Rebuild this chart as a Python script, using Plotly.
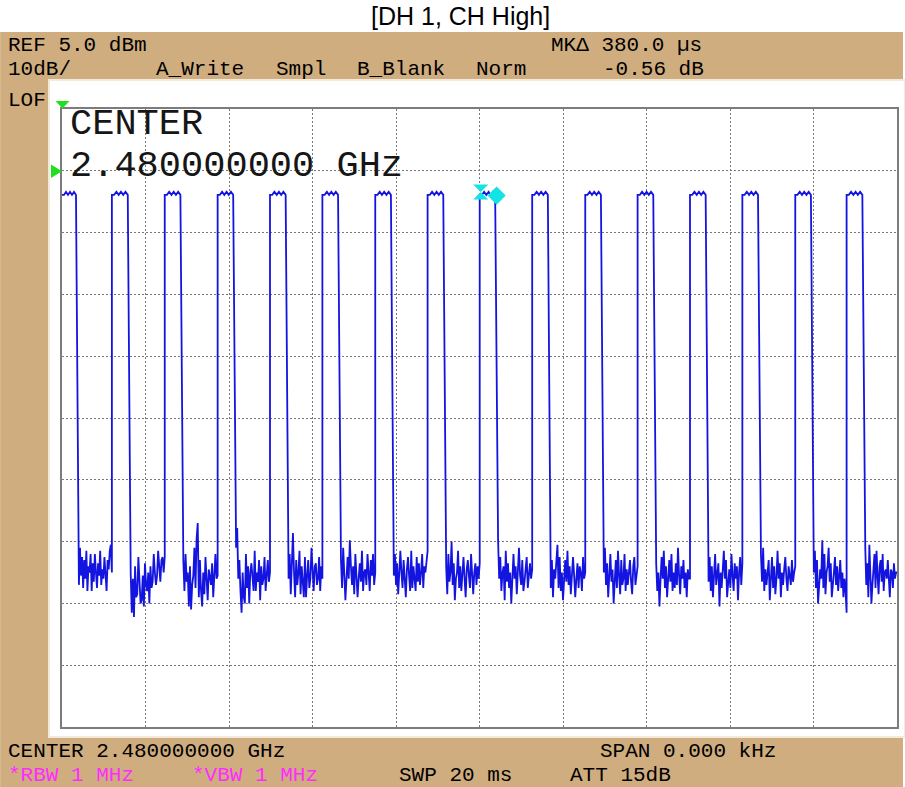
import numpy as np
import plotly.graph_objects as go

# ---- Analyzer settings -------------------------------------------------------
SWEEP_MS = 20.0          # zero-span sweep time
REF_LEVEL_DBM = 5.0      # top of screen
DB_PER_DIV = 10.0
N_DIV = 10

# ---- Burst timing (ms) -----------------------------------------------------
RISE_MS = [1.195, 2.461, 3.728, 4.982, 6.237, 7.503, 8.757, 10.005,
           11.262, 12.533, 13.787, 15.042, 16.296, 17.563, 18.793]
FALL_MS = [0.335, 1.575, 2.836, 4.100, 5.357, 6.612, 7.878, 9.132, 10.375,
           11.637, 12.908, 14.162, 15.417, 16.671, 17.938, 19.170]
FALL_SETTLE_MS = 0.07    # one sweep point between burst end and noise floor

# Burst top level with its small ripple (dBm)
PULSE_TOP = [-8.9, -8.9, -8.4, -8.9, -8.4, -8.9, -8.4, -8.9]

# Noise floor between bursts (dBm), one list per gap
NOISE_GAPS = [
    [-72, -66, -70.5, -67.5, -72.5, -68, -71, -66.5, -73, -69, -70, -67, -73, -68.5, -71.5, -67,
     -70, -72.5, -68.5, -70.5, -66.5, -72, -69.5, -71, -67.5, -70, -73, -68, -69.5, -66.5, -65.5, -70],
    [-70, -76.5, -71, -77.2, -69, -74, -73.5, -67.5, -72, -75, -74.5, -70.5, -75.5, -68.5, -72, -73,
     -70, -75, -69, -72.5, -71.5, -67, -70, -72, -70.5, -66.5, -69, -71.5, -68, -67.5, -70, -67.5],
    [-68, -73, -67, -71.5, -70, -75.5, -69, -76, -72, -70.5, -66, -72.5, -64.5, -62, -74, -68,
     -73, -75.5, -70, -73.5, -67.5, -72, -74.5, -69.5, -71, -72, -68.5, -74, -70.5, -67, -71, -70.5],
    [-66, -62.8, -71, -68, -73, -76.5, -70, -74, -75, -67, -72.5, -69, -75, -70, -68.5, -71.5,
     -73, -66.5, -73, -70, -71.5, -68, -74.5, -69, -72, -71, -67.5, -73, -70, -68, -71.5, -70],
    [-71, -67, -73.5, -69, -63.6, -70, -74, -68, -72, -70, -66.5, -73.5, -69, -71.5, -74, -67.5,
     -74, -70.5, -68, -72.5, -71, -66, -70, -73, -69, -68.5, -72, -71, -67.5, -73, -69, -71],
    [-68, -72.5, -66, -70, -74.5, -71, -67.5, -71, -64.8, -69, -72, -69, -73.5, -67, -70.5, -74,
     -71, -68.5, -71.5, -66.5, -73, -70, -69.5, -72, -67, -71.5, -73, -68, -70.5, -67, -72, -70],
    [-70.5, -67, -72, -68.5, -73.5, -70, -66.5, -70, -72.5, -68, -71, -74, -69.5, -67.5, -70.5, -73,
     -66.5, -72.5, -69, -71, -73, -67.5, -71.5, -68.5, -72, -70, -67, -72.5, -69, -70, -68, -66.5],
    [-69, -73.5, -67, -71.5, -70, -65, -72, -68.5, -74.5, -71, -70, -66.5, -72.5, -69, -73, -70.5,
     -67.5, -71, -74, -69.5, -68, -70.5, -72.5, -67, -71, -73.5, -70, -68.5, -72, -69, -71, -68.5],
    [-64.7, -71, -67.5, -73, -70, -69, -74.5, -66.5, -71.5, -68.5, -72.5, -70, -75, -71.5, -67, -71,
     -69, -73.5, -70.5, -66, -70.5, -72, -68, -73, -71.5, -69.5, -67.5, -72.5, -70, -68.5, -71, -69.5],
    [-72.5, -68, -74, -69.5, -71, -67.5, -65.5, -72.5, -67.5, -73, -70, -74.5, -71, -68, -71.5, -66.5,
     -72, -69, -73.5, -70.5, -67.5, -70.5, -74, -71, -68.5, -72.5, -69, -70, -73, -67.5, -71, -70],
    [-70, -66, -72, -68.5, -74, -70.5, -67, -71.5, -69.5, -75, -71, -68, -72.5, -66.5, -70.5, -73.5,
     -68, -72, -71, -67, -73, -69.5, -72, -70, -68, -71.5, -73.5, -69, -67.5, -72, -70.5, -69],
    [-68.5, -73, -70, -75.5, -71, -67.5, -71, -66.5, -72.5, -69, -74, -70.5, -68, -71.5, -67, -73,
     -70, -72.5, -68.5, -72, -66, -70.5, -73.5, -69, -71, -68, -72.5, -70, -74, -69.5, -71, -71],
    [-71.5, -67.5, -73, -69, -74, -70.5, -67, -72, -70, -68.5, -75.5, -70, -72.5, -69.5, -66.5, -71,
     -68, -74, -71.5, -69.5, -72.5, -67, -70.5, -73, -68.5, -71, -69, -74.5, -70, -67.5, -72, -68.5],
    [-67, -71.5, -66, -73, -69.5, -72, -70, -68, -74.5, -70, -67.5, -72.5, -69, -73.5, -71, -66.5,
     -71, -68.5, -74, -70, -72, -69.5, -67.5, -71, -73, -69, -70.5, -72, -68, -71.5, -70, -69],
    [-70, -66.5, -72.5, -68, -75, -71, -69.5, -71, -64.8, -72.5, -67, -73.5, -70, -69, -66, -71.5,
     -68.5, -74, -71, -70, -67.5, -72, -69, -73, -70.5, -68, -72.5, -70, -74, -71, -73, -76.5],
    [-66, -72, -68.5, -74, -65.5, -71, -75, -72, -69, -67, -72.5, -66.5, -70.5, -73.5, -69, -68,
     -71.5, -67, -73, -70, -69.5, -71, -68, -72, -74, -69.5, -70, -72.5, -68.5, -71, -70, -70],
]

# Delta marker: reference marker on a burst, delta marker at its end
MK1_MS = 10.03
MK1_DBM = -8.45
MKD_US = 380.0
MKD_DB = -0.56

# ---- Build the zero-span trace ---------------------------------------------
t, lvl = [], []
# first burst is already on at sweep start
t += list(np.linspace(0.0, FALL_MS[0], len(PULSE_TOP)))
lvl += PULSE_TOP
for k, rise in enumerate(RISE_MS):
    gap = NOISE_GAPS[k]
    t += list(np.linspace(FALL_MS[k] + FALL_SETTLE_MS, rise, len(gap)))
    lvl += gap
    t += list(np.linspace(rise, FALL_MS[k + 1], len(PULSE_TOP)))
    lvl += PULSE_TOP
last = NOISE_GAPS[-1]
t += list(np.linspace(FALL_MS[-1] + FALL_SETTLE_MS, SWEEP_MS, len(last)))
lvl += last

# ---- Screen geometry -----------------------------------------------------------
W, H = 905, 787
L, R, T, B = 62, 899, 109, 727


def px(x):
    return (x - L) / (R - L)


def py(y):
    return (B - y) / (B - T)


TAN = "#cfad7f"
TRACE = "#1414e0"
GRID = "#787878"
MAGENTA = "#ff2cff"
CYAN = "#14e3e6"
GREEN = "#1ee01e"
MONO = "Liberation Mono"

fig = go.Figure()

fig.add_trace(go.Scatter(
    x=t, y=lvl, mode="lines",
    line=dict(color=TRACE, width=1.8),
    hoverinfo="skip", showlegend=False,
))

# markers
fig.add_trace(go.Scatter(
    x=[MK1_MS], y=[MK1_DBM], mode="markers",
    marker=dict(symbol="hourglass", size=15, color=CYAN, line=dict(width=0)),
    showlegend=False, hoverinfo="skip", cliponaxis=False,
))
fig.add_trace(go.Scatter(
    x=[MK1_MS + MKD_US / 1000.0], y=[MK1_DBM + MKD_DB], mode="markers",
    marker=dict(symbol="diamond", size=14, color=CYAN, line=dict(width=0)),
    showlegend=False, hoverinfo="skip", cliponaxis=False,
))

shapes = [
    # instrument bezel
    dict(type="rect", xref="paper", yref="paper", layer="below",
         x0=px(0), x1=px(W), y0=py(32), y1=py(H),
         fillcolor=TAN, line=dict(width=0)),
    # white screen area
    dict(type="rect", xref="paper", yref="paper", layer="below",
         x0=px(49), x1=px(W + 2), y0=py(737), y1=py(80),
         fillcolor="white", line=dict(color="#f3eadb", width=2)),
    # reference-level triangle (top left)
    dict(type="path", xref="paper", yref="paper",
         path=f"M {px(55.5)} {py(101)} L {px(69.5)} {py(101)} L {px(62.5)} {py(108.5)} Z",
         fillcolor=GREEN, line=dict(width=0)),
    # trigger-level triangle (left edge)
    dict(type="path", xref="paper", yref="paper",
         path=f"M {px(51)} {py(164.5)} L {px(51)} {py(178)} L {px(62)} {py(171.3)} Z",
         fillcolor=GREEN, line=dict(width=0)),
]


def label(text, x, y, size=21, color="black", family=MONO, anchor="left"):
    return dict(text=text, x=px(x), y=py(y), xref="paper", yref="paper",
                xanchor=anchor, yanchor="middle", showarrow=False,
                font=dict(family=family, size=size, color=color))


annotations = [
    label("[DH 1, CH High]", 461, 16, size=25, family="Liberation Sans", anchor="center"),
    # header lines
    label("REF 5.0 dBm", 6, 45.5),
    label("MK\u0394 380.0 \u00b5s", 550, 45.5),
    label("10dB/", 6, 69.5),
    label("A_Write", 154, 69.5),
    label("Smpl", 275, 69.5),
    label("B_Blank", 356, 69.5),
    label("Norm", 475, 69.5),
    label("-0.56 dB", 602, 69.5),
    label("LOF", 6, 101),
    # footer lines
    label("CENTER 2.480000000 GHz", 6, 751),
    label("SPAN 0.000 kHz", 599, 751),
    label("*RBW 1 MHz", 6, 775, color=MAGENTA),
    label("*VBW 1 MHz", 190, 775, color=MAGENTA),
    label("SWP 20 ms", 398, 775),
    label("ATT 15dB", 569, 775),
    # on-screen center frequency
    label("CENTER", 68, 123.5, size=37, color="#161616"),
    label("2.480000000 GHz", 68, 165.5, size=37, color="#161616"),
]

axis_common = dict(
    showticklabels=False, ticks="", zeroline=False,
    showgrid=True, gridcolor=GRID, gridwidth=1, griddash="2px,2px",
    showline=True, linecolor="#7c7c7c", linewidth=2, mirror=True,
    fixedrange=True,
)

fig.update_layout(
    width=W, height=H,
    margin=dict(l=L, r=W - R, t=T, b=H - B, pad=0),
    paper_bgcolor="white", plot_bgcolor="white",
    xaxis=dict(range=[0, SWEEP_MS], tick0=0, dtick=SWEEP_MS / N_DIV, **axis_common),
    yaxis=dict(range=[REF_LEVEL_DBM - N_DIV * DB_PER_DIV, REF_LEVEL_DBM],
               tick0=REF_LEVEL_DBM, dtick=DB_PER_DIV, **axis_common),
    shapes=shapes,
    annotations=annotations,
    showlegend=False,
)

fig.write_html("out.html")
